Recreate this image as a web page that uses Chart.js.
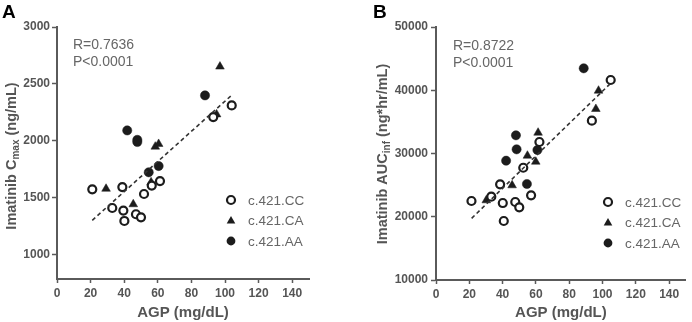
<!DOCTYPE html>
<html>
<head>
<meta charset="utf-8">
<script src="https://cdn.jsdelivr.net/npm/chart.js@4.4.0/dist/chart.umd.min.js"></script>
<style>
  body { margin: 0; background: #fff; }
  .panel { position: absolute; top: 0; width: 346px; height: 322px; }
</style>
</head>
<body>
<div class="panel" style="left:0"><canvas id="chartA" width="346" height="322"></canvas></div>
<div class="panel" style="left:346px"><canvas id="chartB" width="346" height="322"></canvas></div>
<script>
// Panel A: AGP vs imatinib Cmax
const ccAgpA = [21, 32.9, 38.9, 39.5, 40.1, 47, 50, 51.8, 56.4, 61.3, 93, 104];
const ccCmax = [1573, 1409, 1593, 1386, 1295, 1354, 1327, 1532, 1606, 1646, 2208, 2311];
const caAgpA = [29.2, 45.4, 56, 58.5, 60.5, 95, 97];
const caCmax = [1578, 1442, 1635, 1948, 1972, 2232, 2652];
const aaAgpA = [41.8, 47.8, 47.8, 54.6, 60.5, 88.1];
const aaCmax = [2091, 1989, 2008, 1723, 1778, 2399];
const fitAgpA = [21, 104.3];
const fitCmax = [1301, 2405];

// Panel B: AGP vs imatinib AUCinf
const ccAgpB = [21.3, 33.2, 38.5, 40.1, 40.7, 47.6, 50, 52.4, 57.1, 62.1, 93.6, 104.9];
const ccAuc = [22490, 23170, 25130, 22170, 19330, 22330, 21490, 27750, 23390, 31820, 35190, 41620];
const caAgpB = [30.2, 45.7, 54.9, 59.9, 61.3, 96, 97.6];
const caAuc = [22600, 24970, 29650, 28700, 33290, 37040, 39930];
const aaAgpB = [42.1, 48, 48.4, 54.6, 60.9, 88.7];
const aaAuc = [28860, 32880, 30660, 25180, 30550, 43470];
const fitAgpB = [21.4, 105.2];
const fitAuc = [19750, 41190];

const xTicks = [0, 20, 40, 60, 80, 100, 120, 140];
const yTicksA = [1000, 1500, 2000, 2500, 3000];
const yTicksB = [10000, 20000, 30000, 40000, 50000];
const groups = ['c.421.CC', 'c.421.CA', 'c.421.AA'];

const FONT = '"Liberation Sans", Arial, sans-serif';
const INK = '#1c1c1c';
const AXIS = '#5a5a5a';
const TEXT = '#555';

const pts = (xs, ys) => xs.map((x, i) => ({ x: x, y: ys[i] }));

function makeDatasets(cc, ca, aa, fit) {
    return [
        { label: groups[0], data: cc, pointStyle: 'circle', pointRadius: 4, borderWidth: 2.2,
          backgroundColor: '#fff', borderColor: INK },
        { label: groups[1], data: ca, pointStyle: 'triangle', pointRadius: 5, borderWidth: 0.5,
          backgroundColor: INK, borderColor: INK },
        { label: groups[2], data: aa, pointStyle: 'circle', pointRadius: 4.6, borderWidth: 0.5,
          backgroundColor: INK, borderColor: INK },
        { type: 'line', label: 'fit', data: fit, showLine: true, pointRadius: 0,
          borderColor: '#333', borderWidth: 1.6, borderDash: [4, 3], fill: false, order: -1 }
    ];
}

// panel letter, y title with subscript, R/P text and legend
const decor = {
    id: 'decor',
    afterDraw(chart, args, o) {
        const c = chart.ctx;
        c.save();
        c.fillStyle = '#000';
        c.font = 'bold 19px ' + FONT;
        c.textBaseline = 'top';
        c.fillText(o.letter, o.letterX, 3);

        // y title (rotated, with subscript)
        c.save();
        c.translate(o.titleX, o.titleY);
        c.rotate(-Math.PI / 2);
        c.fillStyle = TEXT;
        c.textBaseline = 'middle';
        const main = 'bold 14.5px ' + FONT;
        const sub = 'bold 10px ' + FONT;
        c.font = main; const w1 = c.measureText(o.yTitle[0]).width; const w3 = c.measureText(o.yTitle[2]).width;
        c.font = sub; const w2 = c.measureText(o.yTitle[1]).width;
        let x = -(w1 + w2 + w3) / 2;
        c.font = main; c.fillText(o.yTitle[0], x, 0); x += w1;
        c.font = sub; c.fillText(o.yTitle[1], x, 4); x += w2;
        c.font = main; c.fillText(o.yTitle[2], x, 0);
        c.restore();

        // statistics
        c.fillStyle = '#666';
        c.font = '14px ' + FONT;
        c.textBaseline = 'middle';
        c.fillText(o.rText, o.statX, o.statY);
        c.fillText('P<0.0001', o.statX, o.statY + 17);

        // legend
        c.font = '13.5px ' + FONT;
        groups.forEach((g, i) => {
            const y = o.legY + i * 20.5;
            const sx = o.legX;
            c.fillStyle = INK; c.strokeStyle = INK;
            if (i === 0) {
                c.lineWidth = 2.2; c.fillStyle = '#fff';
                c.beginPath(); c.arc(sx, y, 4, 0, Math.PI * 2); c.fill(); c.stroke();
            } else if (i === 1) {
                c.beginPath(); c.moveTo(sx, y - 4.5); c.lineTo(sx + 4.3, y + 3); c.lineTo(sx - 4.3, y + 3);
                c.closePath(); c.fill();
            } else {
                c.beginPath(); c.arc(sx, y, 4.4, 0, Math.PI * 2); c.fill();
            }
            c.fillStyle = '#666';
            c.fillText(g, o.legX + 17, y + 1);
        });
        c.restore();
    }
};

function makeChart(id, datasets, yMin, yMax, yTicks, yWidth, padRight, xHeight, yPad, opts) {
    const tickFont = { family: FONT, size: 12, weight: 'bold' };
    return new Chart(document.getElementById(id), {
        type: 'scatter',
        data: { datasets: datasets },
        options: {
            responsive: false,
            devicePixelRatio: 1,
            animation: false,
            layout: { padding: { left: 0, top: 27, right: padRight, bottom: 0 } },
            plugins: { legend: { display: false }, tooltip: { enabled: false }, decor: opts },
            scales: {
                x: {
                    type: 'linear', min: 0, max: 150,
                    afterBuildTicks: s => { s.ticks = xTicks.map(v => ({ value: v })); },
                    afterFit: s => { s.height = xHeight; },
                    border: { color: AXIS, width: 2 },
                    grid: { drawOnChartArea: false, tickLength: 4, tickColor: AXIS, tickWidth: 1.5 },
                    ticks: { color: TEXT, padding: 3, font: tickFont, callback: v => String(v) },
                    title: { display: true, text: 'AGP (mg/dL)', color: TEXT, padding: 0,
                             font: { family: FONT, size: 15, weight: 'bold' } }
                },
                y: {
                    type: 'linear', min: yMin, max: yMax,
                    afterBuildTicks: s => { s.ticks = yTicks.map(v => ({ value: v })); },
                    afterFit: s => { s.width = yWidth; },
                    border: { color: AXIS, width: 2 },
                    grid: { drawOnChartArea: false, tickLength: 5, tickColor: AXIS, tickWidth: 1.5 },
                    ticks: { color: TEXT, padding: yPad, font: tickFont, callback: v => String(v) }
                }
            }
        },
        plugins: [decor]
    });
}

makeChart('chartA',
    makeDatasets(pts(ccAgpA, ccCmax), pts(caAgpA, caCmax), pts(aaAgpA, aaCmax), pts(fitAgpA, fitCmax)),
    785, 3000, yTicksA, 57, 37, 43, 2,
    { letter: 'A', letterX: 2, yTitle: ['Imatinib C', 'max', ' (ng/mL)'], titleX: 12, titleY: 156,
      rText: 'R=0.7636', statX: 73, statY: 45, legX: 231, legY: 200 });

makeChart('chartB',
    makeDatasets(pts(ccAgpB, ccAuc), pts(caAgpB, caAuc), pts(aaAgpB, aaAuc), pts(fitAgpB, fitAuc)),
    10000, 50000, yTicksB, 90, 4, 42, 3,
    { letter: 'B', letterX: 27, yTitle: ['Imatinib AUC', 'inf', ' (ng*hr/mL)'], titleX: 37, titleY: 154,
      rText: 'R=0.8722', statX: 107, statY: 46, legX: 262, legY: 202 });
</script>
</body>
</html>
